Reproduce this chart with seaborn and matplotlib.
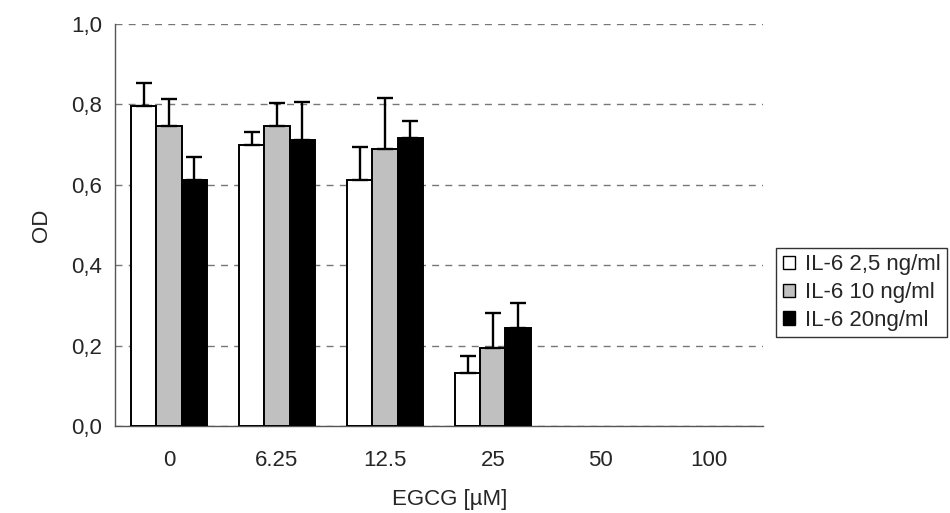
import pandas as pd
import numpy as np
import seaborn as sns
import matplotlib.pyplot as plt
from matplotlib.patches import Patch

# EGCG concentration (uM) and optical density per IL-6 dose
doses = ["0", "6.25", "12.5", "25", "50", "100"]
series = ["IL-6 2,5 ng/ml", "IL-6 10 ng/ml", "IL-6 20ng/ml"]
od_25 = [0.795, 0.698, 0.611, 0.131, None, None]
od_10 = [0.746, 0.746, 0.688, 0.194, None, None]
od_20 = [0.611, 0.712, 0.717, 0.243, None, None]
err_25 = [0.059, 0.033, 0.083, 0.044, None, None]
err_10 = [0.067, 0.058, 0.129, 0.088, None, None]
err_20 = [0.058, 0.093, 0.043, 0.063, None, None]
colors = ["white", "#C0C0C0", "black"]

rows = []
for name, vals, errs in zip(series, [od_25, od_10, od_20], [err_25, err_10, err_20]):
    for d, v, e in zip(doses, vals, errs):
        if v is not None:
            rows.append({"dose": d, "series": name, "od": v, "err": e})
df = pd.DataFrame(rows)

sns.set_style("white")
plt.rcParams["font.family"] = ["Liberation Sans", "DejaVu Sans"]
fs = 16

fig = plt.figure(figsize=(9.5, 5.13), dpi=100)
ax = fig.add_axes([0.121, 0.1696, 0.682, 0.7834])

sns.barplot(data=df, x="dose", y="od", hue="series", order=doses,
            hue_order=series, palette=colors, width=0.7, gap=0,
            errorbar=None, edgecolor="black", linewidth=1.4, legend=False,
            ax=ax, zorder=3)

# upper-only error bars, matched to the drawn bars
for cont, name in zip(ax.containers, series):
    sub = df[df["series"] == name].set_index("dose").reindex(doses).dropna()
    for bar, e in zip(cont, sub["err"]):
        x = bar.get_x() + bar.get_width() / 2
        h = bar.get_height()
        ax.errorbar(x, h, yerr=[[0], [e]], fmt="none", ecolor="black",
                    elinewidth=1.7, capsize=6, capthick=1.7, zorder=4)

ax.set_xlim(-0.5, 5.5)
ax.set_ylim(0, 1.0)
ax.set_yticks(np.arange(0, 1.01, 0.2))
ax.set_yticklabels([f"{t:.1f}".replace(".", ",") for t in np.arange(0, 1.01, 0.2)])
ax.set_xticks(range(len(doses)))
ax.set_xticklabels(doses)
ax.set_xticks(np.arange(-0.5, 5.6, 1), minor=True)
ax.tick_params(axis="x", which="major", length=0, labelsize=fs, pad=17)
ax.tick_params(axis="x", which="minor", length=6, width=1, color="#555555", direction="out")
ax.tick_params(axis="y", length=10, width=1, color="#555555", direction="inout", labelsize=fs, pad=4)

ax.yaxis.grid(True, linestyle=(0, (5, 4.5)), color="#777777", linewidth=1)
ax.set_axisbelow(True)
for s in ["top", "right"]:
    ax.spines[s].set_visible(False)
for s in ["left", "bottom"]:
    ax.spines[s].set_color("#555555")
    ax.spines[s].set_linewidth(1)

ax.set_xlabel("EGCG [µM]", fontsize=fs)
ax.xaxis.set_label_coords(0.517, -0.157)
ax.set_ylabel("OD", fontsize=fs, labelpad=14)

handles = [Patch(facecolor=c, edgecolor="black", linewidth=1) for c in colors]
leg = fig.legend(handles, series, loc="upper left", bbox_to_anchor=(0.817, 0.517),
                 frameon=True, fancybox=False, fontsize=fs, handlelength=0.55,
                 handleheight=0.55, handletextpad=0.45, labelspacing=0.3,
                 borderpad=0.3, borderaxespad=0)
leg.get_frame().set_edgecolor("black")
leg.get_frame().set_linewidth(1)

fig.savefig("out.png", dpi=100)
